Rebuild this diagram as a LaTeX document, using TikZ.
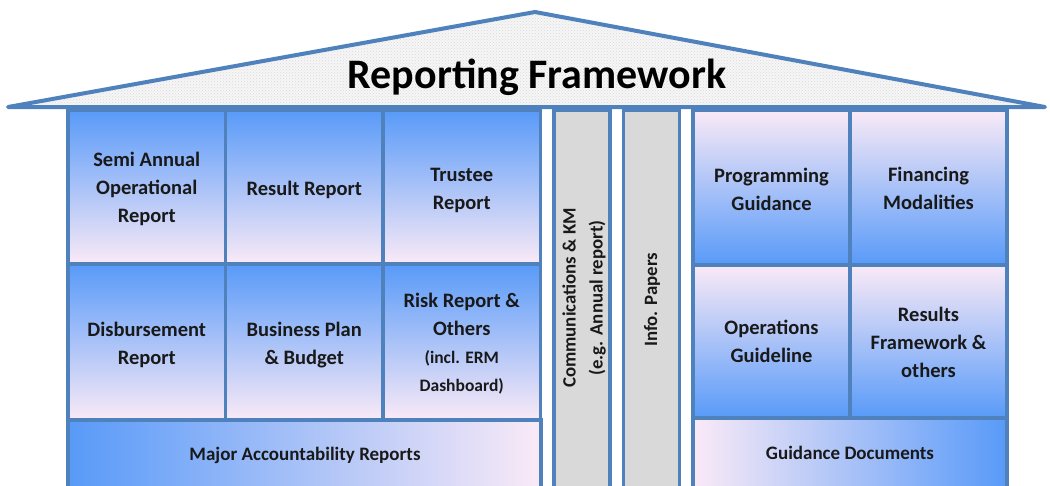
\documentclass[tikz,border=0pt]{standalone}
\usepackage{fontspec}
\setmainfont{Carlito}
\usetikzlibrary{patterns}

\definecolor{frameblue}{RGB}{79,129,189}
\definecolor{cellblue}{RGB}{88,154,248}
\definecolor{midblue}{RGB}{132,192,250}
\definecolor{cellpink}{RGB}{250,234,247}
\definecolor{colgray}{RGB}{217,217,217}
\definecolor{roofgray}{RGB}{246,246,246}

\tikzset{
  cellbase/.style={rectangle, draw=frameblue, line width=3.5pt, inner sep=0pt},
  upcell/.style={cellbase, top color=cellblue, middle color=midblue, bottom color=cellpink},
  downcell/.style={cellbase, top color=cellpink, middle color=midblue, bottom color=cellblue},
  leftbar/.style={cellbase, left color=cellblue, middle color=midblue, right color=cellpink},
  rightbar/.style={cellbase, left color=cellpink, middle color=midblue, right color=cellblue},
  celltext/.style={align=center, inner sep=0pt, font=\fontsize{20.5}{28}\selectfont\bfseries, text=black!90},
  bartext/.style={inner sep=0pt, font=\fontsize{19}{22}\selectfont\bfseries, text=black!90},
  pillar/.style={rectangle, draw=frameblue, line width=3.5pt, fill=colgray,
    minimum width=56pt, minimum height=380pt},
  pillartext/.style={rotate=90, align=center, font=\fontsize{18.8}{27}\selectfont\bfseries, text=black!90},
}

\begin{document}
\begin{tikzpicture}[x=1pt,y=-1pt]
\useasboundingbox (0,0) rectangle (1050,485);

% roof with a fine woven texture
\path[preaction={fill=roofgray}, pattern=crosshatch dots, pattern color=gray!30]
  (8,107) -- (535,12) -- (1045,107) -- cycle;
\draw[frameblue, line width=4pt, line join=round] (8,107) -- (535,12) -- (1045,107) -- cycle;
\node[font=\fontsize{42}{48}\selectfont\bfseries, text=black] (title) at (537,77) {Reporting Framework};

% left block: accountability reports
\node[upcell, minimum width=157.5pt, minimum height=154pt] (sar) at (146.75,187) {};
\node[upcell, minimum width=157.5pt, minimum height=154pt] (res) at (304.25,187) {};
\node[upcell, minimum width=157.5pt, minimum height=154pt] (tru) at (461.75,187) {};
\node[upcell, minimum width=157.5pt, minimum height=156pt] (dis) at (146.75,342) {};
\node[upcell, minimum width=157.5pt, minimum height=156pt] (bpb) at (304.25,342) {};
\node[upcell, minimum width=157.5pt, minimum height=156pt] (risk) at (461.75,342) {};
\node[leftbar, minimum width=473pt, minimum height=80pt] (mar) at (304.5,460) {};

\node[celltext] (sartext) at ([yshift=-2pt]sar.center) {Semi Annual\\Operational\\Report};
\node[celltext] (restext) at ([yshift=-3pt]res.center) {Result Report};
\node[celltext] (trutext) at ([yshift=-3pt]tru.center) {Trustee\\Report};
\node[celltext] (distext) at ([yshift=-3pt]dis.center) {Disbursement\\Report};
\node[celltext] (bpbtext) at ([yshift=-3pt]bpb.center) {Business Plan\\\& Budget};
\node[celltext] (risktext) at ([yshift=-2pt]risk.center)
  {Risk Report \&\\Others\\\fontsize{17.5}{26}\selectfont(incl. ERM\\\fontsize{17.5}{26}\selectfont Dashboard)};
\node[bartext] (martext) at (305,455) {Major Accountability Reports};

% pillars
\node[pillar] (comm) at (582,300) {};
\node[pillartext] (commtext) at (584,298) {Communications \& KM\\(e.g. Annual report)};
\node[pillar] (info) at (651.5,300) {};
\node[pillartext] (infotext) at (652,300) {Info. Papers};

% right block: guidance documents
\node[downcell, minimum width=157pt, minimum height=155pt] (prog) at (771.5,187.5) {};
\node[downcell, minimum width=157pt, minimum height=155pt] (fin) at (928.5,187.5) {};
\node[downcell, minimum width=157pt, minimum height=153pt] (ops) at (771.5,341.5) {};
\node[downcell, minimum width=157pt, minimum height=153pt] (rf) at (928.5,341.5) {};
\node[rightbar, minimum width=314pt, minimum height=80pt] (gd) at (850,458) {};

\node[celltext] (progtext) at ([yshift=-2pt]prog.center) {Programming\\Guidance};
\node[celltext] (fintext) at ([yshift=-1pt]fin.center) {Financing\\Modalities};
\node[celltext] (opstext) at (ops.center) {Operations\\Guideline};
\node[celltext] (rftext) at ([yshift=-1pt]rf.center) {Results\\Framework \&\\others};
\node[bartext] (gdtext) at (850,453) {Guidance Documents};
\end{tikzpicture}
\end{document}
